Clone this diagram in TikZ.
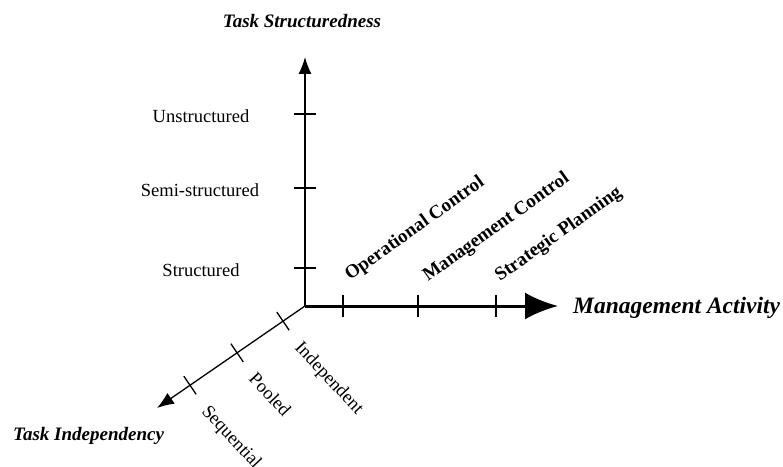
\documentclass[tikz,border=0pt]{standalone}
\usepackage{fontspec}
\setmainfont{Liberation Serif}
\usetikzlibrary{arrows.meta,calc}
\begin{document}
\begin{tikzpicture}[x=1pt,y=1pt,
  lab/.style={font=\fontsize{18.5}{20}\selectfont, inner sep=0pt},
  blab/.style={font=\fontsize{19}{21}\selectfont\bfseries, inner sep=0pt, rotate=35.5, anchor=base west},
  dlab/.style={lab, rotate=-47, anchor=base west},
  ttl/.style={font=\fontsize{19}{21}\selectfont\bfseries\itshape, inner sep=0pt},
  axthin/.style={line width=1.3pt, -{Latex[length=17pt,width=13pt]}},
  axthick/.style={line width=3pt, -{Latex[length=33pt,width=27pt]}},
  tk/.style={line width=1.3pt},
  tkthick/.style={line width=2.6pt},
]
\useasboundingbox (0,0) rectangle (783,466);
\coordinate (O) at (305,160);
\coordinate (V) at (305,409);
\coordinate (H) at (558,160);
\coordinate (D) at (157,58);
\draw[axthin] (O) -- (V);
\draw[axthick] (O) -- (H);
\draw[axthin] (O) -- (D);
% vertical ticks
\coordinate (v1) at (305,198);
\coordinate (v2) at (305,278);
\coordinate (v3) at (305,352);
\foreach \c in {v1,v2,v3} \draw[tk] ($(\c)+(-11,0)$) -- ($(\c)+(11,0)$);
\node[lab] (structured) at (201,196) {Structured};
\node[lab] (semi) at (200,276) {Semi-structured};
\node[lab] (unstructured) at (201,350) {Unstructured};
% horizontal ticks
\coordinate (h1) at (343,160);
\coordinate (h2) at (418,160);
\coordinate (h3) at (496,160);
\foreach \c in {h1,h2,h3} \draw[tkthick] ($(\c)+(0,-11)$) -- ($(\c)+(0,11)$);
\node[blab] (oc) at (350,185) {Operational Control};
\node[blab] (mc) at (428,184) {Management Control};
\node[blab] (sp) at (500,184) {Strategic Planning};
% diagonal ticks
\coordinate (d1) at ($(O)!0.1486!(D)$);
\coordinate (d2) at ($(O)!0.459!(D)$);
\coordinate (d3) at ($(O)!0.777!(D)$);
\foreach \c in {d1,d2,d3} \draw[tk] ($(\c)+(-6.2,9.1)$) -- ($(\c)+(6.2,-9.1)$);
\node[dlab] (indep) at ($(d1)+(11,-27)$) {Independent};
\node[dlab] (pooled) at ($(d2)+(11,-27)$) {Pooled};
\node[dlab] (seq) at ($(d3)+(11,-27)$) {Sequential};
% titles
\node[ttl, anchor=base] (ts) at (302,438) {Task Structuredness};
\node[ttl, font=\fontsize{23.5}{25}\selectfont\bfseries\itshape, anchor=base west] (ma) at (573,153) {Management Activity};
\node[ttl, anchor=base west] (ti) at (13,26) {Task Independency};
\end{tikzpicture}
\end{document}
